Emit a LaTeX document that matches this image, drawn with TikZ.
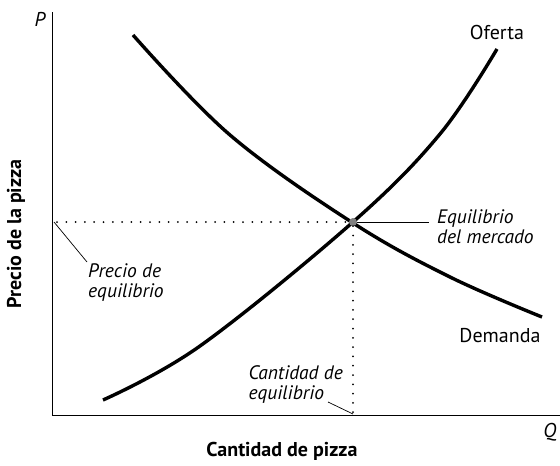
\documentclass[tikz,border=0pt]{standalone}
\usepackage{fontspec}
\setmainfont{PT Sans}
\usepackage{tikz}

\begin{document}
\begin{tikzpicture}[x=1pt,y=-1pt,font=\fontsize{20}{22}\selectfont,
	curve/.style={line width=3.4pt},
	dots/.style={line width=2pt,line cap=round,dash pattern=on 0pt off 9.3pt},
	lbl/.style={font=\fontsize{19.5}{20}\selectfont\itshape,align=left,inner sep=0pt}]
	\useasboundingbox (0,0) rectangle (560,466);
	\coordinate (o) at (52,415);
	\coordinate (ytop) at (52,12);
	\coordinate (xend) at (560,415);
	\draw[line width=0.9pt] (ytop) -- (o) -- (xend);
	\node(P) at (40,19) {\itshape P};
	\node(Q) at (550,432) {\itshape Q};
	\draw[curve] plot[smooth,tension=0.6] coordinates {(133,35) (230,135) (353,223) (450,277) (542,317)};
	\draw[curve] plot[smooth,tension=0.6] coordinates {(103,400) (200,346) (353,222) (440,134) (497,49)};
	\node[circle,fill=gray,inner sep=0pt,minimum size=8pt](E) at (353,222) {};
	\coordinate (pe) at (57,222);
	\coordinate (qe) at (353,414);
	\draw[dots] (pe) -- (E);
	\draw[dots] (E) -- (qe);
	\node(oferta) at (497,32) {Oferta};
	\node(demanda) at (500,336) {Demanda};
	\node[lbl,anchor=west](mercado) at (437,227) {Equilibrio\\del mercado};
	\node[lbl,anchor=west](precio) at (88,283) {Precio de\\equilibrio};
	\node[lbl,anchor=east](cantidad) at (343,385) {Cantidad de\\equilibrio};
	\draw[line width=0.9pt] (E) -- (429,222);
	\draw[line width=0.7pt] (54,222) -- (87,262);
	\draw[line width=0.7pt] (qe) -- (328,402);
	\node[font=\fontsize{20}{22}\selectfont\bfseries,rotate=90](ylab) at (16,234) {Precio de la pizza};
	\node[font=\fontsize{20}{22}\selectfont\bfseries](xlab) at (282,451) {Cantidad de pizza};
\end{tikzpicture}
\end{document}
